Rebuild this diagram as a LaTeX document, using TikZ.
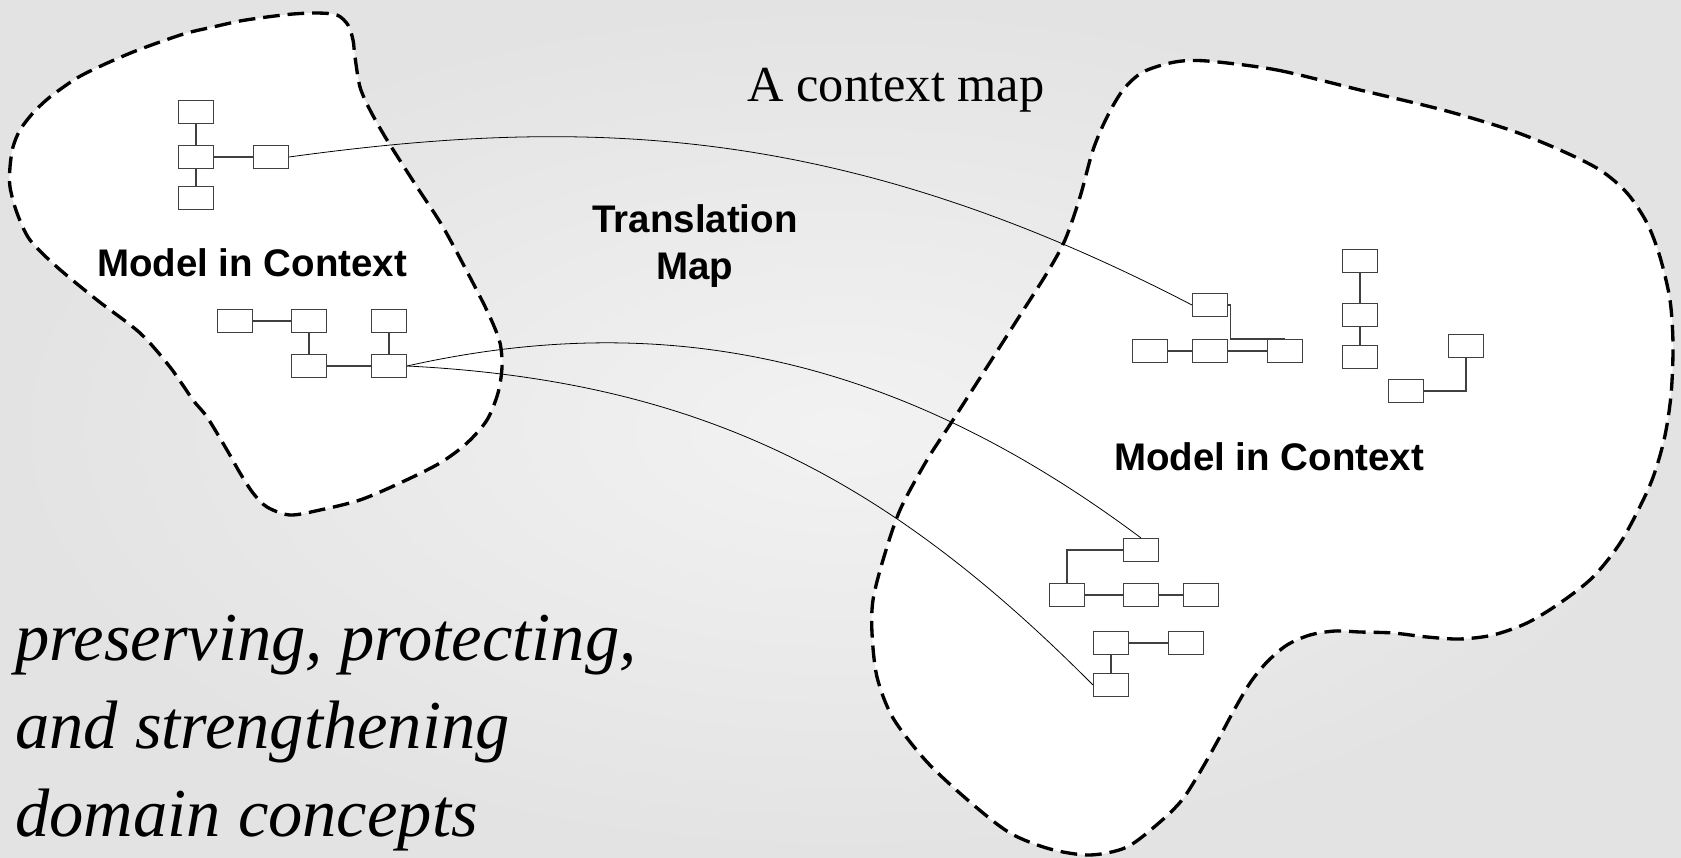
\documentclass[tikz,border=0pt]{standalone}
\usepackage{fontspec}
\newfontfamily\mapsans{Liberation Sans}
\newfontfamily\mapserif{Liberation Serif}

\tikzset{
  cls/.style={draw=black!75, fill=white, line width=0.6pt,
    minimum width=0.7cm, minimum height=0.46cm, inner sep=0pt},
  ctxline/.style={draw=black, fill=white, line width=1.9pt,
    dash pattern=on 9.5pt off 4.5pt},
  link/.style={draw=black!75, line width=0.6pt},
  xlate/.style={draw=black, line width=0.45pt},
  ctxlabel/.style={font=\mapsans\bfseries\fontsize{21.9}{26.6}\selectfont,
    inner sep=0pt},
}

\begin{document}
\begin{tikzpicture}[x=0.02cm, y=-0.02cm]
\useasboundingbox (0,0) rectangle (1681,858);
\shade[inner color=black!5, outer color=black!11] (0,0) rectangle (1681,858);

% bounded contexts
\path[ctxline] plot[smooth cycle] coordinates {
  (50,97) (77,78) (103,65) (133,52) (160,42) (187,33) (213,27) (240,21)
  (267,17) (293,14) (317,13) (337,15) (348,25) (353,40) (355,57) (360,87)
  (370,110) (387,140) (417,187) (443,227) (473,283) (490,317) (500,343)
  (502,367) (498,393) (487,420) (467,443) (440,463) (400,483) (360,500)
  (320,510) (290,515) (267,507) (253,493) (240,473) (227,450) (207,417)
  (193,400) (170,367) (140,333) (97,300) (57,267) (30,240) (17,213)
  (10,187) (10,167) (13,147) (20,130) (33,113)};

\path[ctxline] plot[smooth cycle] coordinates {
  (1207,61) (1277,70) (1360,90) (1443,110) (1510,130) (1560,150) (1600,170)
  (1627,193) (1647,223) (1660,257) (1670,300) (1673,345) (1671,395)
  (1664,440) (1650,485) (1622,540) (1593,577) (1560,603) (1527,623)
  (1493,635) (1460,639) (1427,637) (1393,633) (1360,632) (1335,631)
  (1310,635) (1287,645) (1267,662) (1250,683) (1233,712) (1217,742)
  (1200,772) (1182,800) (1160,822) (1127,847) (1090,855) (1050,849)
  (1010,833) (970,802) (927,762) (893,718) (877,677) (872,633) (873,600)
  (883,560) (900,510) (927,460) (953,420) (987,367) (1017,320) (1047,273)
  (1065,240) (1080,197) (1093,150) (1107,117) (1123,90) (1143,72) (1175,62)};

% left model
\node[cls] (b1) at (196,112) {};
\node[cls] (b2) at (196,157) {};
\node[cls] (b3) at (271,157) {};
\node[cls] (b4) at (196,198) {};
\node[cls] (c1) at (235,321) {};
\node[cls] (c2) at (309,321) {};
\node[cls] (c3) at (389,321) {};
\node[cls] (c4) at (309,366) {};
\node[cls] (c5) at (389,366) {};

\draw[link] (b1) -- (b2);
\draw[link] (b2) -- (b3);
\draw[link] (b2) -- (b4);
\draw[link] (c1) -- (c2);
\draw[link] (c2) -- (c4);
\draw[link] (c4) -- (c5);
\draw[link] (c3) -- (c5);

% right model
\node[cls] (r1) at (1210,305) {};
\node[cls] (r2) at (1150,351) {};
\node[cls] (r3) at (1210,351) {};
\node[cls] (r4) at (1285,351) {};
\node[cls] (v1) at (1360,261) {};
\node[cls] (v2) at (1360,315) {};
\node[cls] (v3) at (1360,357) {};
\node[cls] (w1) at (1466,346) {};
\node[cls] (w2) at (1406,391) {};
\node[cls] (s1) at (1141,550) {};
\node[cls] (s2) at (1067,595) {};
\node[cls] (s3) at (1141,595) {};
\node[cls] (s4) at (1201,595) {};
\node[cls] (t1) at (1111,643) {};
\node[cls] (t2) at (1186,643) {};
\node[cls] (t3) at (1111,685) {};

\draw[link] (r2) -- (r3);
\draw[link] (r3) -- (r4);
\draw[link] (r1.east) -- ++(2,0) |- (r4.north);
\draw[link] (v1) -- (v2);
\draw[link] (v2) -- (v3);
\draw[link] (w2.east) -| (w1.south);
\draw[link] (s1.west) -| (s2.north);
\draw[link] (s2) -- (s3);
\draw[link] (s3) -- (s4);
\draw[link] (t1) -- (t2);
\draw[link] (t1) -- (t3);

% translation map
\draw[xlate] (b3.east) .. controls (588,116) and (843,124) .. (r1.west);
\draw[xlate] (c5.east) .. controls (657,310) and (891,351) .. (s1.north);
\draw[xlate] (c5.east) .. controls (707,381) and (892,483) .. (t3.west);

% labels
\node[ctxlabel, anchor=base] (lmodel) at (252,276) {Model in Context};
\node[ctxlabel, anchor=base] (rmodel) at (1269,470) {Model in Context};
\node[ctxlabel, align=center] (xmap) at (695,246) {Translation\\Map};
\node[font=\mapserif\fontsize{28.7}{34}\selectfont, anchor=base, inner sep=0pt]
  (title) at (896,102) {A context map};
\node[font=\mapserif\itshape\fontsize{39}{50}\selectfont, align=left,
  anchor=north west, inner sep=0pt] (motto) at (15,615)
  {preserving, protecting,\\and strengthening\\domain concepts};
\end{tikzpicture}
\end{document}
